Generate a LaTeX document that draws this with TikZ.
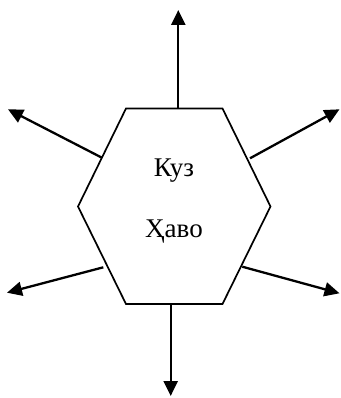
\documentclass[tikz,border=0pt]{standalone}
\usepackage{fontspec}
\setmainfont{Liberation Serif}
\usetikzlibrary{arrows.meta}
\begin{document}
\begin{tikzpicture}[x=1pt,y=-1pt,
  hexline/.style={line width=1.7pt,line join=miter},
  ray/.style={line width=2.3pt,-{Triangle[length=15pt,width=14pt]}},
  lbl/.style={font=\fontsize{27}{32}\selectfont,inner sep=0pt,anchor=base}]
\useasboundingbox (0,0) rectangle (340,398);
% hexagon corners
\coordinate (tl) at (126,108.5);
\coordinate (tr) at (222.5,108.5);
\coordinate (r) at (270.5,206.5);
\coordinate (br) at (222.5,304);
\coordinate (bl) at (126,304);
\coordinate (l) at (78,206.5);
\draw[hexline] (tl) -- (tr) -- (r) -- (br) -- (bl) -- (l) -- cycle;
\node[lbl] (t1) at (174,176) {Куз};
\node[lbl] (t2) at (174,237) {Ҳаво};
% ray start points on hexagon
\coordinate (sT) at (178.3,108.5);
\coordinate (sB) at (170.7,304);
\coordinate (sUL) at (101.5,157.5);
\coordinate (sUR) at (250,158.3);
\coordinate (sLL) at (103.3,267.3);
\coordinate (sLR) at (242.3,266.7);
% ray tips
\coordinate (eT) at (178.3,10);
\coordinate (eB) at (170.7,396);
\coordinate (eUL) at (8,109.3);
\coordinate (eUR) at (339.5,109.3);
\coordinate (eLL) at (7,292.7);
\coordinate (eLR) at (339.5,293.3);
\draw[ray] (sT) -- (eT);
\draw[ray] (sB) -- (eB);
\draw[ray] (sUL) -- (eUL);
\draw[ray] (sUR) -- (eUR);
\draw[ray] (sLL) -- (eLL);
\draw[ray] (sLR) -- (eLR);
\end{tikzpicture}
\end{document}
